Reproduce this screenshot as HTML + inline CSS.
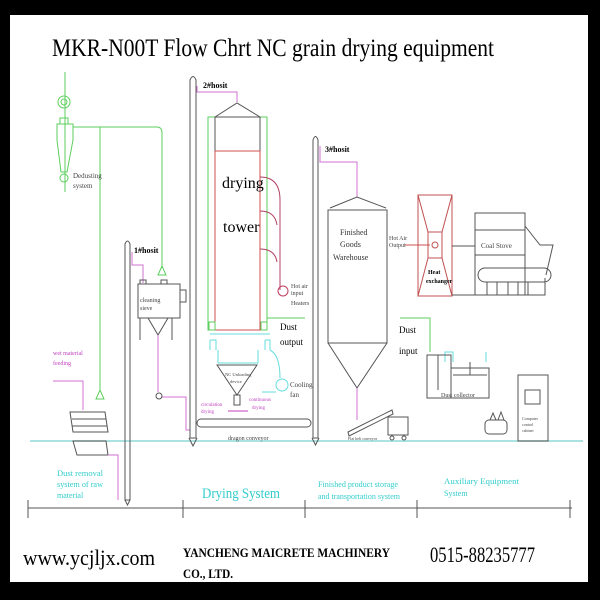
<!DOCTYPE html>
<html><head><meta charset="utf-8"><style>
html,body{margin:0;padding:0;background:#000;}
svg{display:block;}
text{font-family:"Liberation Serif",serif;}
</style></head><body>
<svg width="600" height="600" viewBox="0 0 600 600" xmlns="http://www.w3.org/2000/svg">
<rect x="0" y="0" width="600" height="600" fill="#000"/>
<rect x="10" y="15" width="578" height="567" fill="#fff"/>
<text x="52" y="56" font-size="25" fill="#000" textLength="442" lengthAdjust="spacingAndGlyphs">MKR-N00T Flow Chrt NC grain drying equipment</text>

<line x1="30" y1="441" x2="583" y2="441" stroke="#8fd8d8" stroke-width="1.5"/>

<g stroke="#5ccf5c" fill="none" stroke-width="1">
<line x1="65" y1="72" x2="65" y2="192"/>
<circle cx="64" cy="102" r="6"/><circle cx="64" cy="102" r="3"/>
<rect x="60" y="118" width="8" height="6"/>
<path d="M57 124 H73 V140 L67 172 H61 L57 140 Z"/>
<circle cx="64" cy="178" r="4"/>
<path d="M73 127 H157 Q162 127 162 133 V268"/>
<path d="M158 275 L162 266 L166 275 Z"/>
<line x1="100" y1="127" x2="100" y2="391"/>
<path d="M96 399 L100 390 L104 399 Z"/>
</g>
<text x="73" y="178" font-size="7" fill="#444">Dedusting</text>
<text x="73" y="188" font-size="7" fill="#444">system</text>

<g stroke="#555" fill="none">
<path d="M125 500 V244 Q127.5 238 130 244 V500 Z"/>
<path d="M125 500 L127.5 505 L130 500"/>
</g>
<path d="M132 252 V265 H143 V283" stroke="#d070d0" fill="none"/>
<text x="134" y="253" font-size="8" font-weight="bold" fill="#000">1#hosit</text>
<g stroke="#555" fill="none">
<rect x="138" y="284" width="42" height="34"/>
<rect x="140" y="280" width="6" height="4"/><rect x="161" y="280" width="6" height="4"/>
<path d="M148 318 L158 335 L168 318"/>
<line x1="140" y1="318" x2="140" y2="340"/><line x1="172" y1="318" x2="172" y2="340"/>
<rect x="180" y="290" width="6" height="12"/>
</g>
<text x="140" y="302" font-size="6" fill="#444">cleaning</text>
<text x="140" y="310" font-size="6" fill="#444">sieve</text>
<path d="M158 335 V392 M162 397 H186 V430 H190" stroke="#d070d0" fill="none"/>
<circle cx="159" cy="396" r="3" stroke="#555" fill="none"/>

<text x="53" y="355" font-size="6" fill="#c040c0">wet material</text>
<text x="53" y="365" font-size="6" fill="#c040c0">feeding</text>
<path d="M53 381 H83 V410" stroke="#d070d0" fill="none"/>
<g stroke="#555" fill="none">
<path d="M70 412 H105 L108 432 H73 Z"/>
<line x1="72" y1="419" x2="106" y2="419"/><line x1="72" y1="426" x2="107" y2="426"/>
<path d="M73 441 H106 L108 455 H77 Z"/>
</g>
<path d="M108 455 H118 V500" stroke="#d070d0" fill="none"/>

<g stroke="#555" fill="none">
<path d="M190 438 V80 Q193 73 196 80 V438 Z"/>
<path d="M189 438 L193 446 L197 438"/>
</g>
<path d="M197 86 V92 H237 V102" stroke="#d070d0" fill="none"/>
<text x="203" y="88" font-size="8" font-weight="bold" fill="#000">2#hosit</text>

<rect x="208" y="117" width="59" height="213" stroke="#5ccf5c" fill="none"/>
<path d="M215 117 L237 103 L260 117" stroke="#555" fill="none"/>
<rect x="215" y="117" width="45" height="213" stroke="#555" fill="none"/>
<rect x="215" y="151" width="45" height="179" stroke="#d05050" fill="none"/>
<text x="222" y="188" font-size="16" fill="#000">drying</text>
<text x="223" y="232" font-size="16" fill="#000">tower</text>
<g stroke="#b04060" fill="none">
<path d="M260 177 Q280 177 280 200 V290"/>
<path d="M260 211 Q275 211 277 225"/>
<path d="M260 249 Q275 249 277 262"/>
</g>
<circle cx="283" cy="291" r="5" stroke="#c04060" fill="none"/>
<text x="291" y="288" font-size="6" fill="#444">Hot air</text>
<text x="291" y="295" font-size="6" fill="#444">input</text>
<text x="291" y="305" font-size="6" fill="#444">Heaters</text>
<line x1="267" y1="318" x2="305" y2="318" stroke="#5ccf5c"/>
<text x="280" y="330" font-size="9" fill="#000">Dust</text>
<text x="280" y="345" font-size="9" fill="#000">output</text>
<g stroke="#5ccf5c" fill="none">
<rect x="209" y="322" width="6" height="8"/><rect x="261" y="322" width="6" height="8"/>
</g>
<g stroke="#6dd" fill="none">
<line x1="210" y1="334" x2="270" y2="334"/>
<path d="M210 340 V350 M210 340 H216 V350"/>
<path d="M265 340 V350 M265 340 H270 V350"/>
<line x1="218" y1="363" x2="258" y2="363"/>
<path d="M218 350 V363 M258 350 V363"/>
<path d="M270 350 Q280 355 280 378"/>
<path d="M262 392 H276"/>
</g>
<circle cx="282" cy="385" r="6" stroke="#6dd" fill="none"/>
<text x="290" y="387" font-size="7" fill="#444">Cooling</text>
<text x="290" y="397" font-size="7" fill="#444">fan</text>
<g stroke="#555" fill="none">
<path d="M217 365 L237 395 L257 365 Z"/>
<rect x="234" y="395" width="6" height="10"/>
</g>
<text x="225" y="376" font-size="4.5" fill="#444">NC Unloading</text>
<text x="230" y="383" font-size="4.5" fill="#444">device</text>
<text x="201" y="406" font-size="5" fill="#c040c0">circulation</text>
<text x="201" y="413" font-size="5" fill="#c040c0">drying</text>
<text x="249" y="401" font-size="5" fill="#c040c0">continuous</text>
<text x="252" y="409" font-size="5" fill="#c040c0">drying</text>
<line x1="228" y1="411" x2="248" y2="411" stroke="#c040c0"/>
<rect x="197" y="419" width="114" height="8" rx="4" stroke="#555" fill="none"/>
<text x="228" y="440" font-size="6" fill="#444">dragon conveyor</text>

<g stroke="#555" fill="none">
<path d="M313 438 V140 Q315.5 133 318 140 V438 Z"/>
<path d="M312 438 L315.5 445 L319 438"/>
</g>
<path d="M320 146 V162 H357 V197" stroke="#d070d0" fill="none"/>
<text x="325" y="152" font-size="8" font-weight="bold" fill="#000">3#hosit</text>

<g stroke="#555" fill="none">
<path d="M330 208 L357 197 L386 208"/>
<rect x="328" y="210" width="59" height="133"/>
<path d="M328 343 L357 388 L387 343"/>
</g>
<text x="340" y="235" font-size="8" fill="#333">Finished</text>
<text x="340" y="247" font-size="8" fill="#333">Goods</text>
<text x="333" y="260" font-size="8" fill="#333">Warehouse</text>
<path d="M357 388 V420" stroke="#d070d0" fill="none"/>
<g stroke="#555" fill="none">
<path d="M348 432 L392 410 L393 414 L349 436 Z"/>
<rect x="388" y="417" width="20" height="18"/>
<circle cx="392" cy="438" r="2"/><circle cx="404" cy="438" r="2"/>
</g>
<text x="348" y="440" font-size="4" fill="#444">Flat belt conveyor</text>

<text x="389" y="240" font-size="6" fill="#444">Hot Air</text>
<text x="389" y="247" font-size="6" fill="#444">Output</text>
<line x1="405" y1="245" x2="430" y2="245" stroke="#d05050"/>
<g stroke="#c05050" fill="none">
<rect x="418" y="195" width="34" height="101"/>
<path d="M418 195 L428 232 H442 L452 195 M418 296 L428 258 H442 L452 296"/>
<rect x="428" y="232" width="14" height="26"/>
</g>
<circle cx="435" cy="245" r="3" stroke="#c05050" fill="none"/>
<text x="428" y="274" font-size="6" font-weight="bold" fill="#000">Heat</text>
<text x="426" y="283" font-size="6" font-weight="bold" fill="#000">exchanger</text>
<g stroke="#555" fill="none">
<path d="M452 246 H475 M452 295 H545 V278"/>
<rect x="475" y="213" width="50" height="82"/>
<line x1="475" y1="230" x2="525" y2="230"/>
<line x1="475" y1="255" x2="525" y2="255"/>
<path d="M525 226 L540 245 H553 L546 275"/>
<rect x="478" y="268" width="73" height="14" rx="7"/>
<line x1="487" y1="282" x2="487" y2="295"/><line x1="497" y1="282" x2="497" y2="295"/>
<line x1="508" y1="282" x2="508" y2="295"/><line x1="518" y1="282" x2="518" y2="295"/>
<line x1="528" y1="282" x2="528" y2="295"/>
</g>
<text x="481" y="248" font-size="7" fill="#444">Coal Stove</text>

<path d="M400 318 H430 V352" stroke="#5ccf5c" fill="none"/>
<text x="399" y="333" font-size="9" fill="#000">Dust</text>
<text x="399" y="354" font-size="9" fill="#000">input</text>
<path d="M445 362 V352 H453 V362 M486 352 V362" stroke="#6dd" fill="none"/>
<g stroke="#555" fill="none">
<rect x="427" y="355" width="24" height="43"/>
<line x1="438" y1="355" x2="438" y2="390"/>
<rect x="451" y="368" width="38" height="30"/>
<line x1="453" y1="375" x2="487" y2="375"/>
<line x1="470" y1="362" x2="470" y2="375"/>
</g>
<text x="441" y="397" font-size="6" fill="#444">Dust collector</text>
<g stroke="#555" fill="none">
<rect x="485" y="420" width="22" height="14" rx="4"/>
<path d="M490 420 L493 413 L496 420 M498 420 L501 412 L504 420"/>
<rect x="518" y="375" width="30" height="66"/>
<rect x="525" y="390" width="15" height="14"/>
</g>
<text x="522" y="420" font-size="4" fill="#444">Computer</text>
<text x="522" y="426" font-size="4" fill="#444">control</text>
<text x="522" y="432" font-size="4" fill="#444">cabinet</text>

<g stroke="#555" fill="none">
<line x1="28" y1="508" x2="572" y2="508"/>
<line x1="28" y1="500" x2="28" y2="518"/><line x1="183" y1="500" x2="183" y2="518"/>
<line x1="305" y1="500" x2="305" y2="518"/><line x1="417" y1="500" x2="417" y2="518"/>
<line x1="570" y1="500" x2="570" y2="518"/>
</g>
<g fill="#3cc" font-size="8">
<text x="57" y="476" textLength="46" lengthAdjust="spacingAndGlyphs">Dust removal</text>
<text x="57" y="487" textLength="46" lengthAdjust="spacingAndGlyphs">system of raw</text>
<text x="57" y="498">material</text>
<text x="202" y="498" font-size="15" textLength="78" lengthAdjust="spacingAndGlyphs">Drying System</text>
<text x="318" y="487" textLength="80" lengthAdjust="spacingAndGlyphs">Finished product storage</text>
<text x="318" y="499" textLength="82" lengthAdjust="spacingAndGlyphs">and transportation system</text>
<text x="444" y="484" textLength="75" lengthAdjust="spacingAndGlyphs">Auxiliary Equipment</text>
<text x="444" y="496">System</text>
</g>

<text x="23" y="565" font-size="22" fill="#000" textLength="132" lengthAdjust="spacingAndGlyphs">www.ycjljx.com</text>
<text x="183" y="557" font-size="13" font-weight="bold" fill="#000" textLength="207" lengthAdjust="spacingAndGlyphs">YANCHENG MAICRETE MACHINERY</text>
<text x="183" y="578" font-size="13" font-weight="bold" fill="#000" textLength="50" lengthAdjust="spacingAndGlyphs">CO., LTD.</text>
<text x="430" y="562" font-size="22" fill="#000" textLength="105" lengthAdjust="spacingAndGlyphs">0515-88235777</text>
</svg>
</body></html>
